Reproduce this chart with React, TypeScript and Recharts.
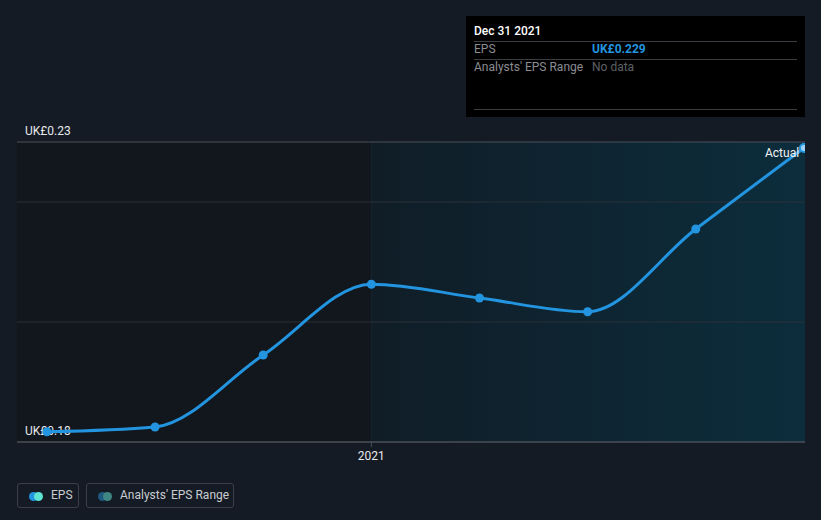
import { ComposedChart, Line, XAxis, YAxis, ReferenceArea, ReferenceLine } from 'recharts';

// months since Jan 2020, quarter ends
const months = [3, 6, 9, 12, 15, 18, 21, 24];
const eps = [0.1817, 0.1825, 0.1945, 0.2063, 0.204, 0.2017, 0.2155, 0.229];
const yLabelValues = [0.18, 0.23];
const gridValues = [0.2, 0.22];
const xTicks = [12];
const xTickLabels = ['2021'];

const data = months.map((m, i) => ({ m, eps: eps[i] }));

const BG = '#151b24';
const BLUE = '#2394df';
const FONT = 'Roboto, "Noto Sans", sans-serif';

const YLabel = (props: any) => {
  const { viewBox, value } = props;
  return (
    <text x={25} y={viewBox.y - 7} fill="#e6e8eb" fontSize={12} fontFamily={FONT}>
      UK£{value.toFixed(2)}
    </text>
  );
};

const LastDot = (props: any) => {
  const { cx, cy, index } = props;
  if (index === data.length - 1) {
    return <circle key={index} cx={cx} cy={cy} r={4} fill="#9fd3f5" stroke={BLUE} strokeWidth={2} />;
  }
  return <circle key={index} cx={cx} cy={cy} r={4.5} fill={BLUE} stroke="none" />;
};

export default function App() {
  const last = eps[eps.length - 1];
  return (
    <div style={{ position: 'absolute', left: 0, top: 0, width: 821, height: 520, background: BG, fontFamily: FONT, overflow: 'hidden' }}>
      <ComposedChart width={821} height={520} data={data} margin={{ top: 142, right: 16, bottom: 48, left: 17 }}>
        <defs>
          <linearGradient id="fcArea" x1="0" y1="0" x2="1" y2="0">
            <stop offset="0%" stopColor="#101d27" />
            <stop offset="100%" stopColor="#0c2d3c" />
          </linearGradient>
        </defs>
        <XAxis
          dataKey="m"
          type="number"
          domain={[2.17, 24.03]}
          allowDataOverflow
          ticks={xTicks}
          tickFormatter={(v: number) => xTickLabels[xTicks.indexOf(v)]}
          height={30}
          axisLine={{ stroke: '#4b5058', strokeWidth: 1 }}
          tickLine={{ stroke: '#4b5058' }}
          tickSize={5}
          tick={{ fill: '#e6e8eb', fontSize: 12, fontFamily: FONT, dy: 2 }}
        />
        <YAxis type="number" domain={[0.18, 0.23]} allowDataOverflow hide />
        <ReferenceArea x1={2.17} x2={12} y1={0.18} y2={0.23} fill="#12161d" fillOpacity={1} stroke="none" />
        <ReferenceArea x1={12} x2={24.03} y1={0.18} y2={0.23} fill="url(#fcArea)" fillOpacity={1} stroke="none" />
        <ReferenceLine x={12} stroke="#16262f" strokeWidth={1} />
        {gridValues.map((g) => (
          <ReferenceLine key={g} y={g} stroke="#2b3139" strokeWidth={1} />
        ))}
        {yLabelValues.map((v, i) => (
          <ReferenceLine
            key={'l' + v}
            y={v}
            stroke={i === 0 ? '#4b5058' : '#4a5058'}
            strokeWidth={1}
            label={<YLabel value={v} />}
          />
        ))}
        <Line
          type="monotone"
          dataKey="eps"
          stroke={BLUE}
          strokeWidth={3}
          dot={<LastDot />}
          activeDot={false}
          isAnimationActive={false}
        />
      </ComposedChart>

      <div style={{ position: 'absolute', left: 765, top: 146, color: '#f2f4f6', fontSize: 12 }}>Actual</div>

      <div style={{ position: 'absolute', left: 466, top: 16, width: 339, height: 101, background: '#000' }}>
        <div style={{ position: 'absolute', left: 8, top: 8, color: '#fff', fontSize: 12, fontWeight: 500 }}>Dec 31 2021</div>
        <div style={{ position: 'absolute', left: 8, right: 8, top: 25, borderTop: '1px solid #3a3d42' }} />
        <div style={{ position: 'absolute', left: 8, top: 26, color: '#8a8d92', fontSize: 12 }}>EPS</div>
        <div style={{ position: 'absolute', left: 126, top: 26, color: BLUE, fontSize: 12, fontWeight: 700 }}>UK£{last.toFixed(3)}</div>
        <div style={{ position: 'absolute', left: 8, right: 8, top: 43, borderTop: '1px solid #3a3d42' }} />
        <div style={{ position: 'absolute', left: 8, top: 44, color: '#8a8d92', fontSize: 12 }}>Analysts' EPS Range</div>
        <div style={{ position: 'absolute', left: 126, top: 44, color: '#5d6066', fontSize: 12 }}>No data</div>
        <div style={{ position: 'absolute', left: 8, right: 8, top: 93, borderTop: '1px solid #3a3d42' }} />
      </div>

      <div style={{ position: 'absolute', left: 17, top: 483, width: 62, height: 25, border: '1px solid #3a3f4a', borderRadius: 3, boxSizing: 'border-box' }}>
        <span style={{ position: 'absolute', left: 11, top: 8, width: 9, height: 9, borderRadius: '50%', background: BLUE }} />
        <span style={{ position: 'absolute', left: 16, top: 8, width: 9, height: 9, borderRadius: '50%', background: '#5fe3d3' }} />
        <span style={{ position: 'absolute', left: 33, top: 4, color: '#c9ccd1', fontSize: 12 }}>EPS</span>
      </div>
      <div style={{ position: 'absolute', left: 86, top: 483, width: 148, height: 25, border: '1px solid #3a3f4a', borderRadius: 3, boxSizing: 'border-box' }}>
        <span style={{ position: 'absolute', left: 11, top: 8, width: 9, height: 9, borderRadius: '50%', background: '#1f5a80' }} />
        <span style={{ position: 'absolute', left: 16, top: 8, width: 9, height: 9, borderRadius: '50%', background: '#3e8784' }} />
        <span style={{ position: 'absolute', left: 33, top: 4, color: '#c9ccd1', fontSize: 12 }}>Analysts' EPS Range</span>
      </div>
    </div>
  );
}
